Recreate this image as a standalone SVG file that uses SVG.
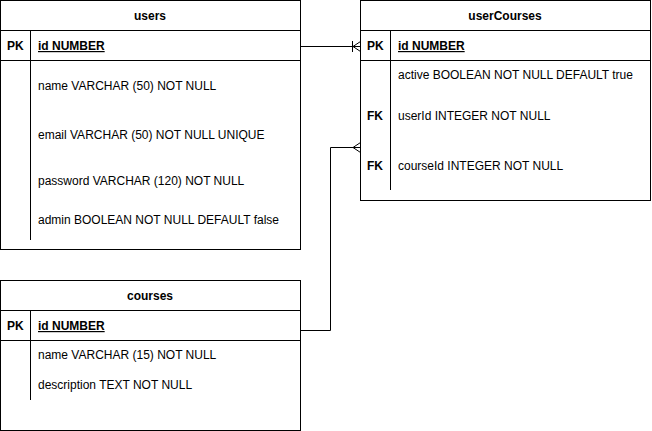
<svg xmlns="http://www.w3.org/2000/svg" width="652" height="431" viewBox="0 0 652 431">
<style>
.box{fill:#fff;stroke:#000;stroke-width:1}
.ln{fill:none;stroke:#000;stroke-width:1}
text{font-family:"Liberation Sans",Arial,sans-serif;font-size:12px;fill:#000}
.t{font-weight:bold;text-anchor:middle}
.k{font-weight:bold}
.pk{font-weight:bold;text-decoration:underline}
</style>
<rect width="652" height="431" fill="#fff"/>
<g id="users">
<rect class="box" x="0.5" y="0.5" width="300" height="249"/>
<path class="ln" d="M0.5,30.5H300.5M0.5,60.5H300.5M30.5,30.5V60.5M30.5,60.5V240"/>
<text class="t" x="150" y="20">users</text>
<text class="k" x="7" y="50">PK</text>
<text class="pk" x="38" y="50">id NUMBER</text>
<text x="38" y="90">name VARCHAR (50) NOT NULL</text>
<text x="38" y="139">email VARCHAR (50) NOT NULL UNIQUE</text>
<text x="38" y="185">password VARCHAR (120) NOT NULL</text>
<text x="38" y="224">admin BOOLEAN NOT NULL DEFAULT false</text>
</g>
<g id="userCourses">
<rect class="box" x="360.5" y="0.5" width="290" height="200"/>
<path class="ln" d="M360.5,30.5H650.5M360.5,60.5H650.5M390.5,30.5V60.5M390.5,60.5V190"/>
<text class="t" x="505" y="20">userCourses</text>
<text class="k" x="367" y="50">PK</text>
<text class="pk" x="398" y="50">id NUMBER</text>
<text x="398" y="79">active BOOLEAN NOT NULL DEFAULT true</text>
<text class="k" x="367" y="120">FK</text>
<text x="398" y="120">userId INTEGER NOT NULL</text>
<text class="k" x="367" y="170">FK</text>
<text x="398" y="170">courseId INTEGER NOT NULL</text>
</g>
<g id="courses">
<rect class="box" x="0.5" y="280.5" width="300" height="150"/>
<path class="ln" d="M0.5,310.5H300.5M0.5,340.5H300.5M30.5,310.5V340.5M30.5,340.5V400"/>
<text class="t" x="150" y="300">courses</text>
<text class="k" x="7" y="330">PK</text>
<text class="pk" x="38" y="330">id NUMBER</text>
<text x="38" y="359">name VARCHAR (15) NOT NULL</text>
<text x="38" y="389">description TEXT NOT NULL</text>
</g>
<g id="connectors">
<path class="ln" d="M300.5,46.5H360.5"/>
<path class="ln" d="M352.5,41V52M353,46.5L360.5,41.5M353,46.5L360.5,51.5"/>
<path class="ln" d="M300.5,330.5H330.5V147.5H360.5"/>
<path class="ln" d="M353,147.5L360.5,142.5M353,147.5L360.5,152.5"/>
</g>
</svg>
